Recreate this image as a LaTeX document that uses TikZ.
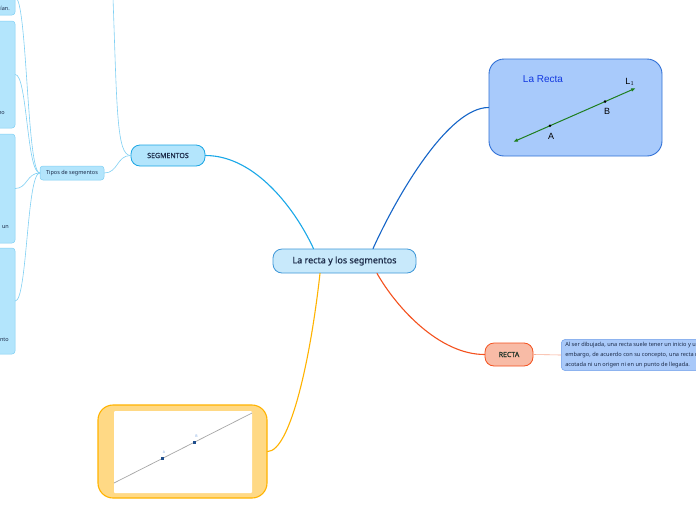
\documentclass[tikz,border=0pt]{standalone}
\usepackage{fontspec}
\setmainfont{Noto Sans}
\newfontfamily\mapheavy[FakeBold=0.5]{Noto Sans}
\newfontfamily\geofont{Liberation Sans}
\usetikzlibrary{arrows.meta,calc}
\definecolor{rootfill}{HTML}{C8E9FB}
\definecolor{rootborder}{HTML}{3E97D8}
\definecolor{maptext}{HTML}{1B2A48}
\definecolor{segfill}{HTML}{B3E5FC}
\definecolor{segborder}{HTML}{1AA6E4}
\definecolor{subborder}{HTML}{80D0F4}
\definecolor{segline}{HTML}{1AA8E8}
\definecolor{rectafill}{HTML}{F8BBA6}
\definecolor{rectaborder}{HTML}{F4511E}
\definecolor{rectatext}{HTML}{1E3328}
\definecolor{rectaline}{HTML}{F4511E}
\definecolor{notefill}{HTML}{A9C9F9}
\definecolor{noteborder}{HTML}{6F9FEA}
\definecolor{noteline}{HTML}{F8A990}
\definecolor{geofill}{HTML}{A8CAFB}
\definecolor{geoborder}{HTML}{3070D6}
\definecolor{geoline}{HTML}{1565C8}
\definecolor{geotitle}{HTML}{1238E0}
\definecolor{geogreen}{HTML}{1E7E1E}
\definecolor{imgfill}{HTML}{FFD985}
\definecolor{imgborder}{HTML}{FFB300}
\definecolor{imgline}{HTML}{FFB300}
\definecolor{imgpoint}{HTML}{1F4E8C}
\definecolor{imglabel}{HTML}{7AA6E0}
\tikzset{
  map root/.style={
    rectangle, rounded corners=9pt,
    draw=rootborder, fill=rootfill, text=maptext,
    line width=0.8pt, inner sep=0pt,
    minimum width=143pt, minimum height=24pt,
    font=\mapheavy\fontsize{9}{11}\selectfont
  },
  map topic/.style={
    rectangle, rounded corners=9pt,
    draw=segborder, fill=segfill, text=maptext,
    line width=0.8pt, inner sep=0pt,
    font=\mapheavy\fontsize{7}{9}\selectfont
  },
  map sub/.style={
    rectangle, rounded corners=3pt,
    draw=subborder, fill=segfill, text=maptext,
    line width=0.5pt, inner sep=0pt,
    font=\fontsize{5.5}{7}\selectfont
  },
  map frag/.style={
    text=maptext, inner sep=0pt, anchor=east,
    font=\fontsize{5.5}{7}\selectfont
  },
  map picture/.style={
    rectangle, rounded corners=15pt,
    line width=0.9pt, inner sep=0pt
  },
  map line/.style={line width=1.1pt, line cap=round},
  map thin/.style={draw=subborder, line width=0.6pt, line cap=round},
  geo label/.style={inner sep=0pt, font=\geofont\fontsize{9}{10}\selectfont}
}

\begin{document}
\begin{tikzpicture}[x=1pt,y=-1pt]
  \clip (0,0) rectangle (696,520);
  \fill[white] (0,0) rectangle (696,520);

  \node[map root] (root) at (344.5,261) {La recta y los segmentos};
  \node[map topic,minimum width=74pt,minimum height=21pt] (seg) at (168,155.5) {SEGMENTOS};
  \node[map sub,minimum width=64pt,minimum height=14pt] (tipos) at (72,173) {Tipos de segmentos};
  \node[map sub,minimum width=55pt,minimum height=35pt] (box1) at (-12.5,-2.5) {};
  \node[map sub,minimum width=55pt,minimum height=107pt] (box2) at (-12.5,74.5) {};
  \node[map sub,minimum width=55pt,minimum height=109pt] (box3) at (-12.5,188.5) {};
  \node[map sub,minimum width=55pt,minimum height=106pt] (box4) at (-12.5,301) {};
  \node[map frag] (frag1) at (10,8) {dían.};
  \node[map frag] (frag2) at (5,113) {no};
  \node[map frag] (frag3) at (9,227) {un};
  \node[map frag] (frag4) at (9,340) {nto};
  \coordinate (segtop) at (113,-2);

  \node[map topic,draw=rectaborder,fill=rectafill,text=rectatext,
    minimum width=48pt,minimum height=23pt] (recta) at (509,354.5) {RECTA};
  \node[map sub,rounded corners=4pt,draw=noteborder,fill=notefill,anchor=west,
    align=left,inner xsep=4pt,inner ysep=3pt,font=\fontsize{5.6}{9.8}\selectfont] (note) at (561,355)
    {Al ser dibujada, una recta suele tener un inicio y un\\
     embargo, de acuerdo con su concepto, una recta n\\
     acotada ni un origen ni en un punto de llegada. 
     };

  % la recta (imagen)
  \node[map picture,draw=geoborder,fill=geofill,minimum width=173pt,minimum height=97pt] (geo) at (575.5,107.5) {};
  \node[geo label,text=geotitle,font=\geofont\fontsize{10}{11}\selectfont] (geotitle) at (543,79) {La Recta};
  \coordinate (geoP) at (513,142);
  \coordinate (geoQ) at (636,88);
  \draw[geogreen,line width=1pt,{Latex[length=5pt,width=3.5pt]}-{Latex[length=5pt,width=3.5pt]}] (geoP) -- (geoQ);
  \fill (550,125.8) circle (1.4pt) coordinate (geoA);
  \fill (605,101.6) circle (1.4pt) coordinate (geoB);
  \node[geo label] (labA) at (551,136) {A};
  \node[geo label] (labB) at (607,111) {B};
  \node[geo label] (labL) at (630,82) {L$_1$};

  % segmento (imagen)
  \node[map picture,draw=imgborder,fill=imgfill,line width=1.1pt,minimum width=169pt,minimum height=93pt] (img) at (182.5,451.5) {};
  \fill[white,rounded corners=1pt] (114,411) rectangle (252,493);
  \draw[gray!70,line width=0.7pt] (114,483) -- (252,413);
  \fill[imgpoint] (160.5,456.5) rectangle +(3,3);
  \fill[imgpoint] (192.5,440.5) rectangle +(3,3);
  \node[inner sep=0pt,text=imglabel,font=\fontsize{3.5}{4}\selectfont] (imgA) at (164,452) {A};
  \node[inner sep=0pt,text=imglabel,font=\fontsize{3.5}{4}\selectfont] (imgB) at (196.5,436.5) {B};

  \draw[map line,segline] ($(root.north)+(-31,0)$) .. controls +(-18,-39) and +(50,0) .. (seg.east);
  \draw[map line,geoline] ($(root.north)+(28.5,0)$) .. controls +(25,-55) and +(-40,0) .. (geo.west);
  \draw[map line,rectaline] ($(root.south)+(32.5,0)$) .. controls +(20,35) and +(-45,0) .. (recta.west);
  \draw[map line,imgline] ($(root.south)+(-24.5,0)$) .. controls +(-10,90) and +(22,0) .. (img.east);
  \draw[noteline,line width=0.6pt] (recta.east) -- (note.west);

  \draw[map thin] (seg.west) .. controls +(-14,0) and +(14,0) .. (tipos.east);
  \draw[map thin] (seg.west) .. controls +(-14,0) and +(4,110) .. (segtop);
  \draw[map thin] (tipos.west) .. controls +(-13,0) and +(12,0) .. (box1.east);
  \draw[map thin] (tipos.west) .. controls +(-13,0) and +(12,0) .. (box2.east);
  \draw[map thin] (tipos.west) .. controls +(-13,0) and +(12,0) .. (box3.east);
  \draw[map thin] (tipos.west) .. controls +(-13,0) and +(12,0) .. (box4.east);
\end{tikzpicture}
\end{document}
